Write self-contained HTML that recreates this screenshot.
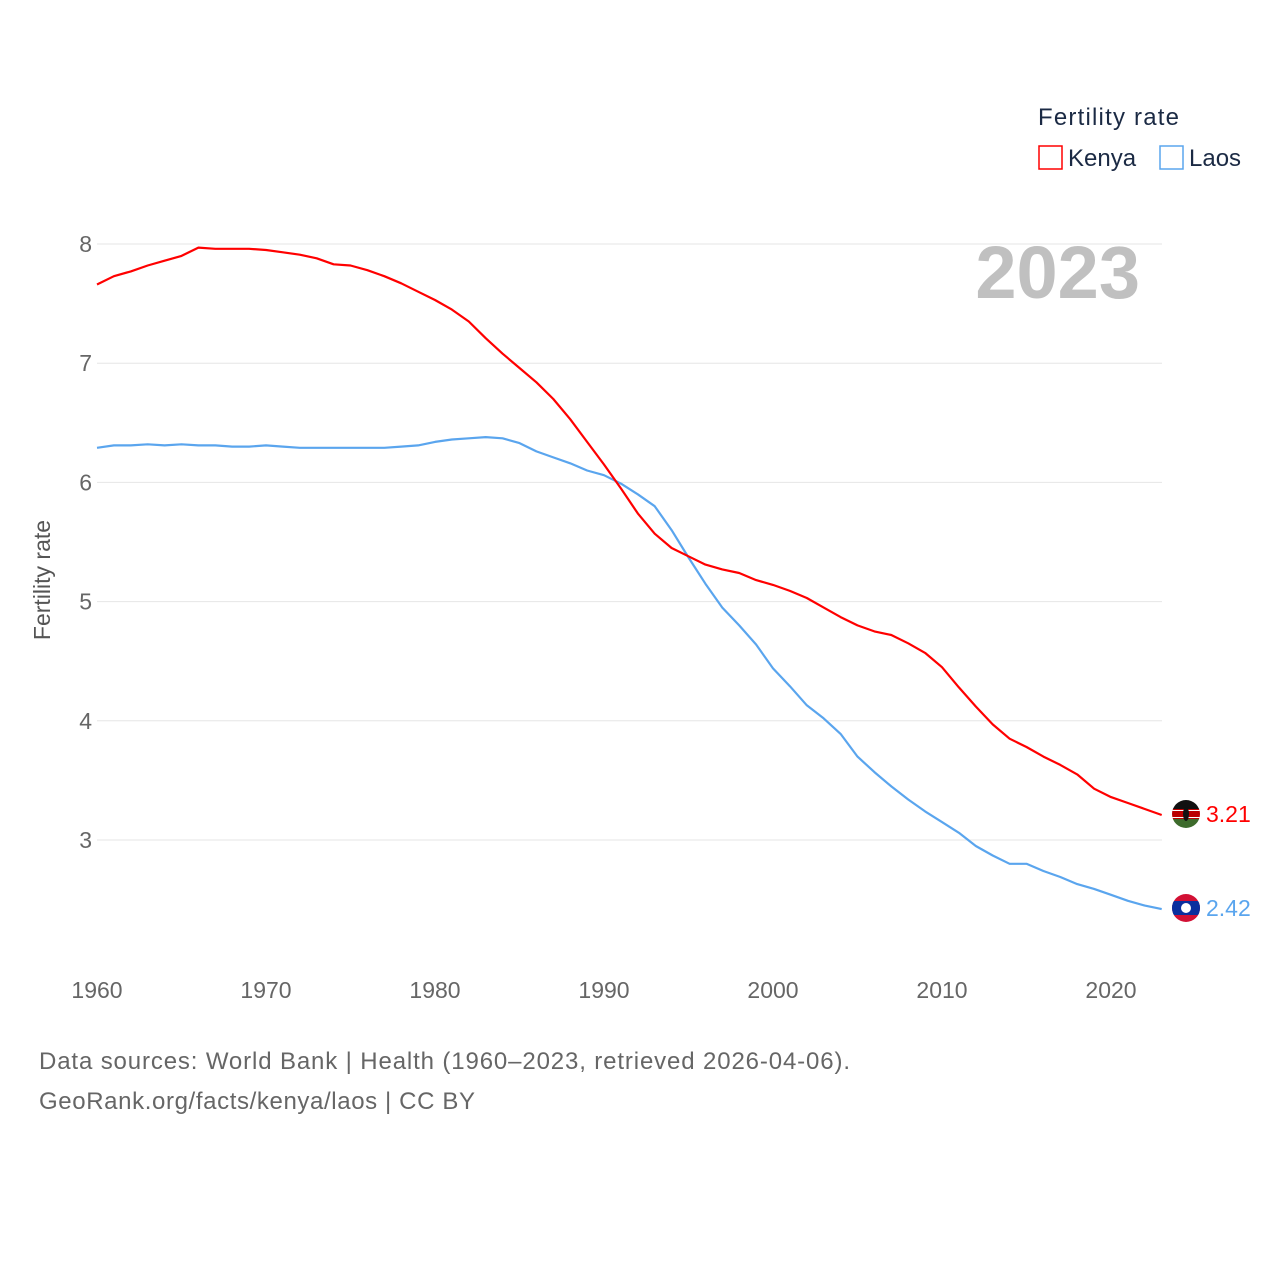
<!DOCTYPE html>
<html><head><meta charset="utf-8"><style>
body{margin:0;background:#fff;font-family:"Liberation Sans",sans-serif;}
svg text{font-family:"Liberation Sans",sans-serif;}
</style></head><body>
<svg id="chart" width="1280" height="1280" viewBox="0 0 1280 1280">
<defs>
<clipPath id="ck"><circle cx="1186" cy="814" r="14"/></clipPath>
<clipPath id="cl"><circle cx="1186" cy="908" r="14"/></clipPath>
</defs>
<g id="grid"></g>
<g id="yticks"></g>
<g id="xticks"></g>
<text x="50" y="580" transform="rotate(-90 50 580)" text-anchor="middle" font-size="23" fill="#555">Fertility rate</text>
<text x="1140" y="298" text-anchor="end" font-size="74" font-weight="bold" fill="#c0c0c0">2023</text>
<g id="series"></g>
<g clip-path="url(#ck)">
<rect x="1172" y="800" width="28" height="9" fill="#111"/><rect x="1172" y="809" width="28" height="10" fill="#b00"/><rect x="1172" y="810" width="28" height="1" fill="#fff"/><rect x="1172" y="817" width="28" height="1" fill="#fff"/><rect x="1172" y="819" width="28" height="9" fill="#3d6b2c"/><ellipse cx="1186" cy="814" rx="3" ry="7" fill="#111"/>
</g>
<g clip-path="url(#cl)">
<rect x="1172" y="894" width="28" height="28" fill="#d21034"/><rect x="1172" y="901" width="28" height="14" fill="#0a2f9e"/><circle cx="1186" cy="908" r="5" fill="#fff"/>
</g>
<text x="1206" y="822" font-size="23" fill="#f00">3.21</text>
<text x="1206" y="916" font-size="23" fill="#5aa5ee">2.42</text>
<g>
<text x="1038" y="125" font-size="24" fill="#1b2a44" textLength="141">Fertility rate</text>
<g><rect x="1039" y="146" width="23" height="23" fill="none" stroke="#f00" stroke-width="1.5"/><text x="1068" y="166" font-size="24" fill="#1b2a44">Kenya</text></g>
<g><rect x="1160" y="146" width="23" height="23" fill="none" stroke="#5aa5ee" stroke-width="1.5"/><text x="1189" y="166" font-size="24" fill="#1b2a44">Laos</text></g>
</g>
<text x="39" y="1069" font-size="24" fill="#666" textLength="811">Data sources: World Bank | Health (1960–2023, retrieved 2026-04-06).</text>
<text x="39" y="1109" font-size="24" fill="#666" textLength="436">GeoRank.org/facts/kenya/laos | CC BY</text>
</svg>
<script>
const years=[];for(let y=1960;y<=2023;y++)years.push(y);
const kenya=[7.66,7.73,7.77,7.82,7.86,7.90,7.97,7.96,7.96,7.96,7.95,7.93,7.91,7.88,7.83,7.82,7.78,7.73,7.67,7.60,7.53,7.45,7.35,7.21,7.08,6.96,6.84,6.70,6.53,6.34,6.15,5.95,5.74,5.57,5.45,5.38,5.31,5.27,5.24,5.18,5.14,5.09,5.03,4.95,4.87,4.80,4.75,4.72,4.65,4.57,4.45,4.28,4.12,3.97,3.85,3.78,3.70,3.63,3.55,3.43,3.36,3.31,3.26,3.21];
const laos=[6.29,6.31,6.31,6.32,6.31,6.32,6.31,6.31,6.30,6.30,6.31,6.30,6.29,6.29,6.29,6.29,6.29,6.29,6.30,6.31,6.34,6.36,6.37,6.38,6.37,6.33,6.26,6.21,6.16,6.10,6.06,5.99,5.90,5.80,5.60,5.37,5.15,4.95,4.80,4.64,4.44,4.29,4.13,4.02,3.89,3.70,3.57,3.45,3.34,3.24,3.15,3.06,2.95,2.87,2.80,2.80,2.74,2.69,2.63,2.59,2.54,2.49,2.45,2.42];
const yTicks=[3,4,5,6,7,8];
const xTicks=[1960,1970,1980,1990,2000,2010,2020];
const NS="http://www.w3.org/2000/svg";
const xs=y=>97+(y-1960)*16.9;
const ys=v=>244+(8-v)*119.2;
function mk(tag,attrs,parent){const e=document.createElementNS(NS,tag);for(const k in attrs)e.setAttribute(k,attrs[k]);parent.appendChild(e);return e;}
const grid=document.getElementById('grid'),yt=document.getElementById('yticks'),xt=document.getElementById('xticks'),ser=document.getElementById('series');
yTicks.forEach(v=>{
 const l=mk('line',{x1:97,x2:1162,y1:ys(v),y2:ys(v),stroke:'#e6e6e6','stroke-width':1},grid);
 
 
 const t=mk('text',{x:92,y:ys(v)+8,'text-anchor':'end','font-size':23,fill:'#666'},yt);t.textContent=v;
 
 
});
xTicks.forEach(v=>{
 const t=mk('text',{x:xs(v),y:998,'text-anchor':'middle','font-size':23,fill:'#666'},xt);t.textContent=v;
 
 
});
function line(data,color,name){
 const d=data.map((v,i)=>(i?'L':'M')+xs(years[i]).toFixed(1)+','+ys(v).toFixed(1)).join('');
 const p=mk('path',{d:d,fill:'none',stroke:color,'stroke-width':2.2,'stroke-linejoin':'round'},ser);
 
 
}
line(laos,'#5aa5ee','laos-line');
line(kenya,'#f00','kenya-line');
</script>
</body></html>
